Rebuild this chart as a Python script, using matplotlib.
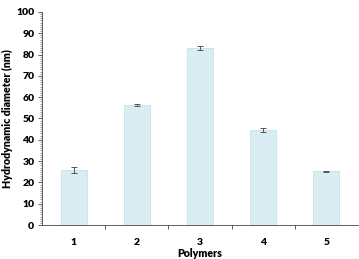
import matplotlib
matplotlib.use("Agg")
import matplotlib.pyplot as plt
from matplotlib.ticker import MultipleLocator, FixedLocator, NullFormatter

categories = ["1", "2", "3", "4", "5"]
values = [25.8, 56.2, 83.0, 44.6, 25.2]
errors = [1.5, 0.5, 0.9, 1.0, 0.2]
yticks = [0, 10, 20, 30, 40, 50, 60, 70, 80, 90, 100]

plt.rcParams['font.family'] = ['Lato', 'DejaVu Sans']

fig = plt.figure(figsize=(3.59, 2.59), dpi=100)
ax = fig.add_axes([0.117, 0.131, 0.880, 0.823])

x = list(range(1, len(categories) + 1))
ax.bar(x, values, width=0.41, color="#d9edf2", edgecolor="#c5e2ea", linewidth=0.6,
       yerr=errors, error_kw=dict(ecolor="#555555", elinewidth=0.7, capsize=2.2, capthick=0.7))

ax.set_xlim(0.5, 5.5)
ax.set_ylim(0, 100)
ax.set_yticks(yticks)
ax.yaxis.set_minor_locator(MultipleLocator(1))
ax.set_xticks(x)
ax.set_xticklabels(categories, fontsize=7.5, fontweight="heavy")
ax.tick_params(axis="x", which="major", length=0, pad=9)
ax.xaxis.set_minor_locator(FixedLocator([1.5, 2.5, 3.5, 4.5]))
ax.xaxis.set_minor_formatter(NullFormatter())
ax.tick_params(axis="x", which="minor", length=3, width=0.6, color="#444444", direction="out")
ax.tick_params(axis="y", which="major", length=3, width=0.6, color="#444444", labelsize=7.5, pad=2.5)
ax.tick_params(axis="y", which="minor", length=1.8, width=0.4, color="#444444")
for lbl in ax.get_yticklabels():
    lbl.set_fontweight("heavy")

for s in ["top", "right"]:
    ax.spines[s].set_visible(False)
ax.spines["left"].set_color("#444444")
ax.spines["left"].set_linewidth(0.6)
ax.spines["bottom"].set_color("#444444")
ax.spines["bottom"].set_linewidth(0.6)

ax.set_ylabel("Hydrodynamic diameter (nm)", fontsize=7.7, fontweight="heavy", labelpad=2)
ax.set_xlabel("Polymers", fontsize=7.7, fontweight="heavy", labelpad=1)

fig.savefig("out.png", dpi=100)
